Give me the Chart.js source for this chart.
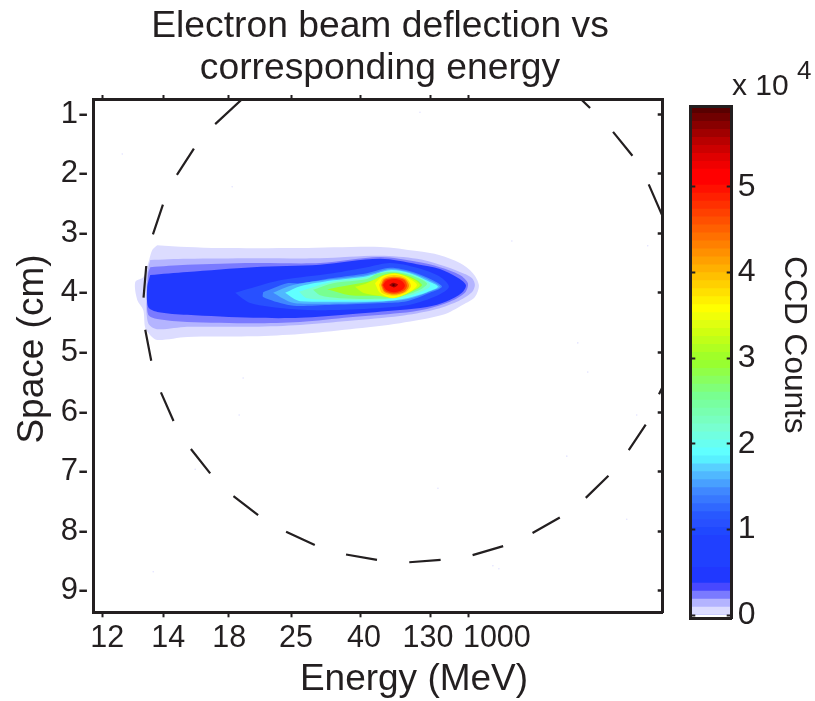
<!DOCTYPE html>
<html>
<head>
<meta charset="utf-8">
<title>Electron beam deflection vs corresponding energy</title>
<script src="https://cdn.jsdelivr.net/npm/chart.js@4/dist/chart.umd.min.js"></script>
<style>
html, body { margin: 0; padding: 0; background: #fff; }
canvas { position: absolute; left: 0; top: 0; }
</style>
</head>
<body>
<canvas id="beamChart" width="815" height="701"></canvas>
<canvas id="colorBar" width="815" height="701"></canvas>
<script>
// x is the detector column (energy axis is not linear), y is space in cm
const energyTicks = [9.5, 70, 135, 198.5, 267, 338, 376];
const energyLabelPos = [14, 75, 136, 203, 271, 335, 404];
const energyLabels = ['12', '14', '18', '25', '40', '130', '1000'];
const spaceTicks = [1, 2, 3, 4, 5, 6, 7, 8, 9];

// dashed aperture circle, null splits the dashes
const circleX = [149, 122, null, 100.7, 83.7, null, 69.7, 59.7, null, 53, 50.3, null, 52, 58, null, 67.7, 80.3, null, 97.7, 117, null, 140.3, 165, null, 193, 221.7, null, 253, 284, null, 316.3, 347.7, null, 379.7, 410.3, null, 439.7, 467, null, 493, 515.7, null, 536, 553, null, 566.3, 577, null, 520.3, 539.7, null, 556, 570, null, 485, 497.3];
const circleY = [0.75, 1.17, null, 1.58, 2.02, null, 2.52, 3.02, null, 3.55, 4.08, null, 4.62, 5.14, null, 5.67, 6.15, null, 6.62, 7.03, null, 7.41, 7.73, null, 8.01, 8.23, null, 8.39, 8.48, null, 8.52, 8.48, null, 8.40, 8.25, null, 8.03, 7.77, null, 7.44, 7.07, null, 6.64, 6.21, null, 5.70, 5.33, null, 1.30, 1.70, null, 2.18, 2.72, null, 0.70, 0.90];

// stray counts on the CCD
const speckleX = [139, 29, 150, 146, 102, 60, 485, 495, 544, 474, 345, 534, 400, 406, 419, 555, 327];
const speckleY = [2.22, 1.67, 5.43, 6.05, 6.96, 8.68, 4.84, 5.33, 6.05, 6.74, 7.28, 7.80, 8.58, 8.63, 3.13, 3.21, 0.97];

// contour levels in units of 10^4 counts, one outline per level
const contourLevels = [0.05, 0.15, 0.25, 0.5, 1.1, 1.4, 1.65, 1.9, 2.2, 2.6, 3.0, 3.3, 3.6, 3.9, 4.3, 4.7, 5.0, 5.6, 5.9];
const contour00 = [[64,3.20],[94,3.23],[127,3.25],[207,3.25],[287,3.23],[324,3.30],[347,3.37],[367,3.50],[380,3.67],[386,3.87],[382,4.07],[370,4.20],[350,4.37],[307,4.51],[257,4.61],[207,4.69],[160,4.73],[94,4.74],[64,4.79],[57,4.71],[52,4.59],[50,4.29],[44,4.12],[42,3.82],[50,3.74],[55,3.50],[59,3.28],[64,3.20]];
const contour01 = [[57,3.45],[94,3.43],[160,3.42],[227,3.42],[287,3.38],[324,3.43],[347,3.53],[367,3.65],[379,3.75],[382,3.87],[379,3.99],[364,4.15],[340,4.29],[307,4.39],[257,4.47],[207,4.54],[160,4.57],[94,4.57],[64,4.61],[55,4.51],[53,4.07],[54,3.67],[57,3.45]];
const contour02 = [[57,3.57],[94,3.53],[160,3.50],[227,3.50],[287,3.40],[324,3.48],[347,3.57],[367,3.70],[375,3.84],[372,4.00],[357,4.15],[334,4.27],[307,4.34],[257,4.41],[207,4.49],[160,4.51],[94,4.49],[64,4.44],[55,4.37],[54,4.00],[55,3.67],[57,3.57]];
const contour03 = [[57,3.70],[94,3.65],[160,3.57],[227,3.53],[287,3.43],[324,3.52],[347,3.60],[364,3.74],[373,3.87],[369,4.00],[354,4.14],[334,4.24],[307,4.29],[257,4.36],[207,4.42],[160,4.42],[94,4.37],[64,4.32],[55,4.24],[54,3.90],[57,3.70]];
const contour04 = [[142,4.00],[187,3.79],[240,3.67],[274,3.57],[297,3.50],[324,3.58],[347,3.73],[356,3.90],[344,4.05],[317,4.20],[290,4.25],[240,4.29],[197,4.27],[157,4.17],[142,4.00]];
const contour05 = [[170,3.99],[194,3.84],[207,3.84],[240,3.75],[274,3.67],[297,3.58],[320,3.65],[340,3.79],[349,3.90],[337,4.00],[314,4.14],[290,4.17],[240,4.20],[207,4.22],[194,4.20],[170,4.07],[170,3.99]];
const contour06 = [[180,4.00],[200,3.87],[240,3.77],[274,3.70],[297,3.60],[318,3.66],[338,3.80],[347,3.90],[335,3.99],[314,4.11],[290,4.15],[247,4.18],[207,4.18],[195,4.14],[180,4.00]];
const contour07 = [[192,4.00],[207,3.89],[240,3.79],[274,3.72],[297,3.62],[317,3.67],[337,3.82],[345,3.90],[334,3.99],[314,4.09],[290,4.14],[247,4.15],[207,4.14],[200,4.09],[192,4.00]];
const contour08 = [[206,3.98],[240,3.81],[274,3.74],[290,3.65],[300,3.63],[317,3.68],[336,3.83],[337,3.90],[330,3.97],[310,4.08],[288,4.12],[247,4.12],[214,4.09],[206,3.98]];
const contour09 = [[220,3.95],[240,3.84],[274,3.77],[284,3.68],[300,3.65],[317,3.70],[334,3.84],[327,3.95],[307,4.07],[287,4.10],[247,4.09],[227,4.04],[220,3.95]];
const contour10 = [[234,3.94],[257,3.87],[280,3.79],[290,3.70],[304,3.67],[320,3.75],[329,3.87],[320,3.97],[304,4.07],[284,4.05],[257,4.04],[234,3.94]];
const contour11 = [[262,3.90],[275,3.83],[288,3.72],[303,3.67],[318,3.75],[327,3.87],[318,3.98],[302,4.08],[285,4.05],[270,4.00],[262,3.90]];
const contour12 = [[282,3.84],[289,3.73],[302,3.68],[315,3.75],[324,3.87],[315,4.00],[300,4.09],[287,4.00],[282,3.84]];
const contour13 = [[286,3.87],[290,3.75],[301,3.70],[313,3.75],[318,3.88],[313,3.99],[301,4.05],[289,4.00],[286,3.87]];
const contour14 = [[288,3.87],[291,3.77],[301,3.73],[312,3.77],[316,3.88],[312,3.98],[301,4.03],[291,3.98],[288,3.87]];
const contour15 = [[289,3.87],[292,3.78],[301,3.75],[311,3.78],[314,3.88],[311,3.96],[301,4.01],[292,3.97],[289,3.87]];
const contour16 = [[290,3.87],[293,3.80],[301,3.77],[309,3.80],[312,3.88],[309,3.95],[301,3.99],[293,3.95],[290,3.87]];
const contour17 = [[296,3.87],[300,3.83],[305,3.86],[301,3.91],[296,3.87]];
const contour18 = [[299,3.87],[300.5,3.85],[302,3.87],[300.5,3.89],[299,3.87]];
const contours = [contour00, contour01, contour02, contour03, contour04, contour05, contour06, contour07, contour08, contour09, contour10, contour11, contour12, contour13, contour14, contour15, contour16, contour17, contour18];

// colour bar
const barStep = 0.093;
const barTicks = [0, 1, 2, 3, 4, 5];
const barColors = [
    '#dcdcff', '#b4b4ff', '#7a7aff', '#4848ff', '#2038ff', '#2038ff', '#2040ff', '#2040ff',
    '#2040ff', '#2040ff', '#2048ff', '#2850ff', '#2858ff', '#3068ff', '#3878ff', '#4088ff',
    '#48a0ff', '#50b8ff', '#58d0ff', '#58f0ff', '#60ffff', '#68fff0', '#70ffe0', '#78ffd0',
    '#78ffc0', '#78ffb0', '#78ffa0', '#78ff90', '#80ff78', '#88ff60', '#90ff48', '#98ff30',
    '#a0ff28', '#b0ff20', '#c0ff18', '#d0ff10', '#e0ff10', '#f0ff08', '#ffff00', '#fff000',
    '#ffe000', '#ffd000', '#ffc000', '#ffb000', '#ffa000', '#ff9000', '#ff8000', '#ff7000',
    '#ff6000', '#ff5000', '#ff4000', '#ff3000', '#ff2000', '#ff1000', '#ff0000', '#ff0000',
    '#f00000', '#e00000', '#cc0000', '#b80000', '#a00000', '#880000', '#700000', '#580000'
];

const ink = '#231f20';
const fontName = '"Liberation Sans", Arial, sans-serif';
const axisBorder = { color: ink, width: 3, z: 1 };

function pairs(xs, ys) {
    return xs.map((x, i) => ({ x: x, y: ys[i] }));
}

function setTicks(values) {
    return function(scale) {
        scale.ticks = values.map(v => ({ value: v }));
    };
}

function fixHeight(h) {
    return function(scale) { scale.height = h; };
}

function fixWidth(w) {
    return function(scale) { scale.width = w; };
}

// free standing text that is not centred on its axis
function textPlugin(items) {
    return {
        id: 'freeText',
        afterDraw(chart) {
            const ctx = chart.ctx;
            items.forEach(t => {
                ctx.save();
                ctx.translate(t.x, t.y);
                ctx.rotate((t.rot || 0) * Math.PI / 180);
                ctx.font = t.size + 'px ' + fontName;
                ctx.fillStyle = ink;
                ctx.textAlign = t.align || 'center';
                ctx.textBaseline = 'middle';
                ctx.fillText(t.text, 0, 0);
                ctx.restore();
            });
        }
    };
}

// the title sits a little right of the plot centre in the original
const titleNudge = {
    id: 'titleNudge',
    afterLayout(chart) {
        chart.titleBlock.left += 4;
    }
};

document.addEventListener('DOMContentLoaded', function() {
    const datasets = [];
    datasets.push({
        data: pairs(circleX, circleY),
        showLine: true,
        spanGaps: false,
        borderColor: ink,
        borderWidth: 2.2,
        pointRadius: 0,
        fill: false
    });
    datasets.push({
        data: pairs(speckleX, speckleY),
        showLine: false,
        pointRadius: 0.8,
        pointBorderWidth: 0,
        pointBackgroundColor: '#e2e2ff'
    });
    // first dataset draws on top, so the highest level goes first
    for (let i = contours.length - 1; i >= 0; i--) {
        const color = barColors[Math.floor(contourLevels[i] / barStep)];
        datasets.push({
            data: contours[i].map(p => ({ x: p[0], y: p[1] })),
            showLine: true,
            tension: 0.3,
            borderWidth: 0,
            pointRadius: 0,
            backgroundColor: color,
            fill: 'shape'
        });
    }

    const xMin = 0, xMax = 570, yMin = 0.765, yMax = 9.36;

    new Chart(document.getElementById('beamChart').getContext('2d'), {
        type: 'scatter',
        data: { datasets: datasets },
        plugins: [titleNudge, textPlugin([
            { text: 'Energy (MeV)', x: 414, y: 680, size: 37 },
            { text: 'Space (cm)', x: 33, y: 349, size: 37, rot: -90 }
        ])],
        options: {
            responsive: false,
            animation: false,
            layout: { padding: { left: 0, right: 152.3, top: 0, bottom: 0 } },
            plugins: {
                legend: { display: false },
                tooltip: { enabled: false },
                title: {
                    display: true,
                    fullSize: false,
                    text: ['Electron beam deflection vs', 'corresponding energy'],
                    color: ink,
                    font: { family: fontName, size: 37.25, weight: 'normal', lineHeight: 1.11 },
                    padding: { top: 6.5, bottom: 10.8 }
                }
            },
            scales: {
                x: {
                    type: 'linear', position: 'bottom', weight: 1,
                    min: xMin, max: xMax,
                    afterBuildTicks: setTicks(energyLabelPos),
                    afterFit: fixHeight(88.7),
                    grid: { display: false },
                    border: axisBorder,
                    ticks: {
                        callback: (v, i) => energyLabels[i],
                        color: ink, font: { family: fontName, size: 30.5 },
                        padding: 0, maxRotation: 0, autoSkip: false
                    }
                },
                xTick: {
                    type: 'linear', position: 'bottom', weight: 0,
                    min: xMin, max: xMax,
                    afterBuildTicks: setTicks(energyTicks),
                    afterFit: fixHeight(0),
                    grid: { drawOnChartArea: false, tickLength: 5, tickWidth: 2, tickColor: ink, z: 1 },
                    border: axisBorder,
                    ticks: { display: false }
                },
                xTop: {
                    type: 'linear', position: 'top',
                    min: xMin, max: xMax,
                    afterBuildTicks: setTicks(energyTicks),
                    afterFit: fixHeight(0),
                    grid: { drawOnChartArea: false, tickLength: 5, tickWidth: 2, tickColor: ink, z: 1 },
                    border: axisBorder,
                    ticks: { display: false }
                },
                y: {
                    type: 'linear', position: 'left', reverse: true,
                    min: yMin, max: yMax,
                    afterBuildTicks: setTicks(spaceTicks),
                    afterFit: fixWidth(93.3),
                    grid: { drawOnChartArea: false, drawTicks: false },
                    border: axisBorder,
                    ticks: {
                        callback: v => v + '-',
                        color: ink, font: { family: fontName, size: 31 },
                        padding: 5, autoSkip: false
                    }
                },
                yRight: {
                    type: 'linear', position: 'right', reverse: true,
                    min: yMin, max: yMax,
                    afterBuildTicks: setTicks(spaceTicks),
                    afterFit: fixWidth(0),
                    grid: { drawOnChartArea: false, tickLength: -5, tickWidth: 2.5, tickColor: ink, z: 1 },
                    border: axisBorder,
                    ticks: { display: false }
                }
            }
        }
    });

    // colour bar: tallest band goes last in the array so it draws first
    new Chart(document.getElementById('colorBar').getContext('2d'), {
        type: 'bar',
        data: {
            labels: ['counts'],
            datasets: barColors.map((c, i) => ({
                data: [(i + 1) * barStep],
                backgroundColor: c,
                grouped: false,
                categoryPercentage: 1,
                barPercentage: 1
            }))
        },
        plugins: [textPlugin([
            { text: 'x 10', x: 732, y: 87, size: 30, align: 'left' },
            { text: '4', x: 797, y: 72, size: 26, align: 'left' },
            { text: 'CCD Counts', x: 794, y: 345, size: 31.6, rot: 90 }
        ])],
        options: {
            responsive: false,
            animation: false,
            layout: { padding: { left: 690.3, right: 0, top: 106, bottom: 83 } },
            plugins: { legend: { display: false }, tooltip: { enabled: false } },
            scales: {
                x: {
                    position: 'bottom',
                    afterFit: fixHeight(0),
                    grid: { display: false },
                    border: axisBorder,
                    ticks: { display: false }
                },
                xTop: {
                    type: 'linear', position: 'top', min: 0, max: 1,
                    afterFit: fixHeight(0),
                    grid: { display: false },
                    border: axisBorder,
                    ticks: { display: false }
                },
                y: {
                    position: 'right',
                    min: -0.035, max: 5.946,
                    afterBuildTicks: setTicks(barTicks),
                    afterFit: fixWidth(83.3),
                    grid: { drawOnChartArea: false, tickLength: -5, tickWidth: 2, tickColor: ink, z: 1 },
                    border: axisBorder,
                    ticks: {
                        color: ink, font: { family: fontName, size: 32 },
                        padding: 11, autoSkip: false
                    }
                },
                yLeft: {
                    position: 'left',
                    min: -0.035, max: 5.946,
                    afterBuildTicks: setTicks(barTicks),
                    afterFit: fixWidth(0),
                    grid: { drawOnChartArea: false, tickLength: -5, tickWidth: 2, tickColor: ink, z: 1 },
                    border: axisBorder,
                    ticks: { display: false }
                }
            }
        }
    });
});
</script>
</body>
</html>
